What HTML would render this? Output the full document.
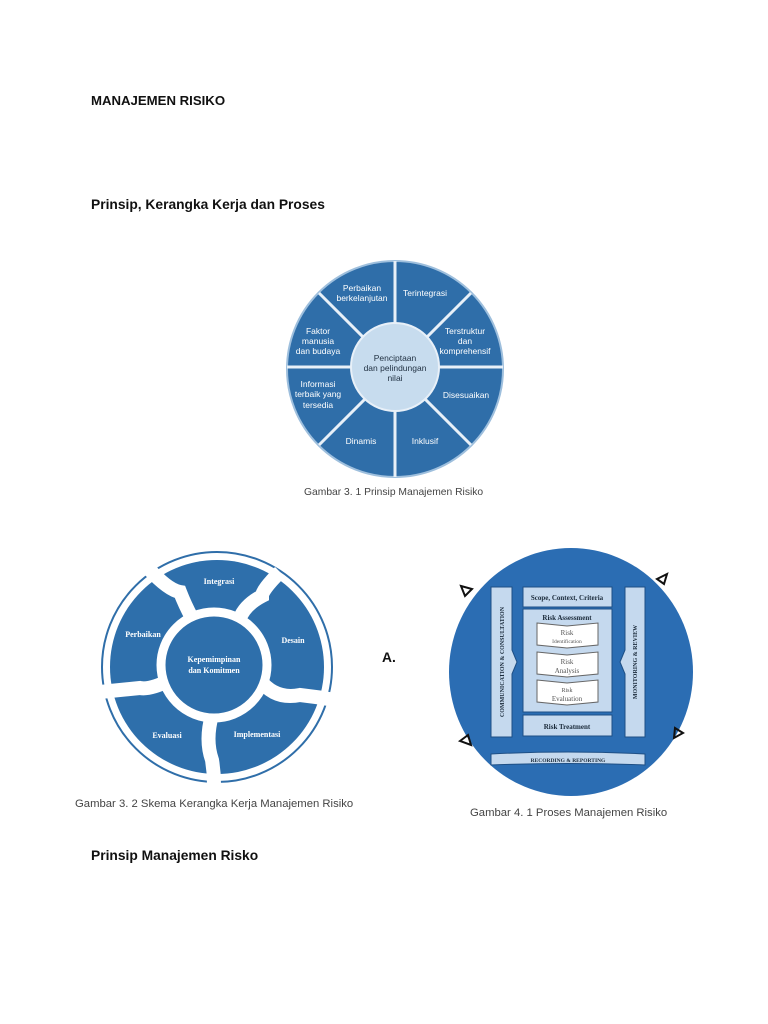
<!DOCTYPE html>
<html><head><meta charset="utf-8"><style>
html,body{margin:0;padding:0;background:#fff;}
body{width:768px;height:1024px;position:relative;overflow:hidden;font-family:"Liberation Sans",sans-serif;}
.h{position:absolute;left:91px;font-weight:bold;font-size:13.8px;color:#111;}
</style></head><body>
<div class="h" style="top:93px;font-size:13.2px">MANAJEMEN RISIKO</div>
<div class="h" style="top:197px">Prinsip, Kerangka Kerja dan Proses</div>
<div class="h" style="top:848px">Prinsip Manajemen Risko</div>
<div class="h" style="top:650px;left:382px">A.</div>
<svg width="768" height="1024" style="position:absolute;left:0;top:0" font-family="Liberation Sans, sans-serif">
<!-- Figure 1 -->
<g>
<circle cx="395" cy="369" r="108" fill="#2f6ea9" stroke="#9ebfdd" stroke-width="2"/>
<g stroke="#e8f0f8" stroke-width="3">
<line x1="395" y1="261" x2="395" y2="477"/>
<line x1="287" y1="367" x2="503" y2="367"/>
<line x1="319" y1="293" x2="471" y2="445"/>
<line x1="471" y1="293" x2="319" y2="445"/>
</g>
<circle cx="395" cy="367" r="44" fill="#c7dcee" stroke="#e8f0f8" stroke-width="2"/>
<g fill="#fff" font-size="8.5" text-anchor="middle">
<text x="362" y="291">Perbaikan</text><text x="362" y="301">berkelanjutan</text>
<text x="425" y="296">Terintegrasi</text>
<text x="465" y="334">Terstruktur</text><text x="465" y="344">dan</text><text x="465" y="354">komprehensif</text>
<text x="318" y="334">Faktor</text><text x="318" y="344">manusia</text><text x="318" y="354">dan budaya</text>
<text x="318" y="387">Informasi</text><text x="318" y="397">terbaik yang</text><text x="318" y="408">tersedia</text>
<text x="466" y="398">Disesuaikan</text>
<text x="361" y="444">Dinamis</text>
<text x="425" y="444">Inklusif</text>
</g>
<g fill="#1f2f40" font-size="8.5" text-anchor="middle">
<text x="395" y="361">Penciptaan</text><text x="395" y="371">dan pelindungan</text><text x="395" y="381">nilai</text>
</g>
<text x="304" y="495" font-size="10.3" fill="#444">Gambar 3. 1 Prinsip Manajemen Risiko</text>
</g>
<!-- Figure 2 -->
<g>
<circle cx="217" cy="667" r="115" fill="#fff" stroke="#2f6ea9" stroke-width="2"/>
<circle cx="217" cy="667" r="107" fill="#2e6fab"/>
<g stroke="#fff" stroke-width="14" fill="none" stroke-linecap="butt">
<path d="M148 568 Q168 590 180 592 Q185 605 192 618"/>
<path d="M280 572 Q262 590 262 596 Q245 605 240 618"/>
<path d="M260 680 Q275 700 300 695 Q318 697 335 700"/>
<path d="M212 715 Q205 740 212 760 Q214 772 214 784"/>
<path d="M170 680 Q150 690 140 688 Q120 690 100 692"/>
</g>
<circle cx="214" cy="665" r="53" fill="#2e6fab" stroke="#fff" stroke-width="9"/>
<g fill="#fff" font-family="Liberation Serif, serif" font-weight="bold" font-size="8" text-anchor="middle">
<text x="219" y="584">Integrasi</text>
<text x="143" y="637">Perbaikan</text>
<text x="293" y="643">Desain</text>
<text x="214" y="662">Kepemimpinan</text><text x="214" y="673">dan Komitmen</text>
<text x="167" y="738">Evaluasi</text>
<text x="257" y="737">Implementasi</text>
</g>
<text x="75" y="807" font-size="11.3" fill="#444">Gambar 3. 2 Skema Kerangka Kerja Manajemen Risiko</text>
</g>
<!-- Figure 3 -->
<g>
<ellipse cx="571" cy="672" rx="122" ry="124" fill="#2b6db3"/>
<g fill="#c5d9ee" stroke="#1e4f85" stroke-width="1">
<path d="M491 587 L512 587 L512 650 L517 662 L512 674 L512 737 L491 737 Z"/>
<path d="M625 587 L645 587 L645 737 L625 737 L625 674 L620 662 L625 650 Z"/>
<rect x="523" y="587" width="89" height="20"/>
<rect x="523" y="609" width="89" height="103"/>
<rect x="523" y="715" width="89" height="21"/>
<path d="M491 754 Q568 750 645 754 L645 765 Q568 762 491 765 Z"/>
</g>
<g fill="#fff" stroke="#666" stroke-width="1">
<path d="M537 623 L567 626 L598 623 L598 645 L567 648 L537 645 Z"/>
<path d="M537 652 L567 655 L598 652 L598 674 L567 677 L537 674 Z"/>
<path d="M537 680 L567 683 L598 680 L598 702 L567 705 L537 702 Z"/>
</g>
<g font-family="Liberation Serif, serif" text-anchor="middle" fill="#1a2a3a">
<text x="567" y="600" font-size="7" font-weight="bold">Scope, Context, Criteria</text>
<text x="567" y="620" font-size="7" font-weight="bold">Risk Assessment</text>
<text x="567" y="729" font-size="7" font-weight="bold">Risk Treatment</text>
<text x="568" y="762" font-size="5.5" font-weight="bold">RECORDING &amp; REPORTING</text>
<g fill="#555"><text x="567" y="635" font-size="7">Risk</text><text x="567" y="643" font-size="5.5">Identification</text>
<text x="567" y="664" font-size="7">Risk</text><text x="567" y="673" font-size="7">Analysis</text>
<text x="567" y="692" font-size="6">Risk</text><text x="567" y="701" font-size="7">Evaluation</text></g>
<text transform="translate(504 662) rotate(-90)" font-size="6" font-weight="bold">COMMUNICATION &amp; CONSULTATION</text>
<text transform="translate(637 662) rotate(-90)" font-size="6" font-weight="bold">MONITORING &amp; REVIEW</text>
</g>
<g fill="none" stroke="#111" stroke-width="2">
<path d="M461 586 L472 589 L465 596 Z"/>
<path d="M657 579 L667 574 L664 584 Z"/>
<path d="M460 741 L468 735 L471 745 Z"/>
<path d="M675 728 L683 733 L674 738 Z"/>
</g>
<text x="470" y="816" font-size="11.3" fill="#444">Gambar 4. 1 Proses Manajemen Risiko</text>
</g>
</svg>
</body></html>
